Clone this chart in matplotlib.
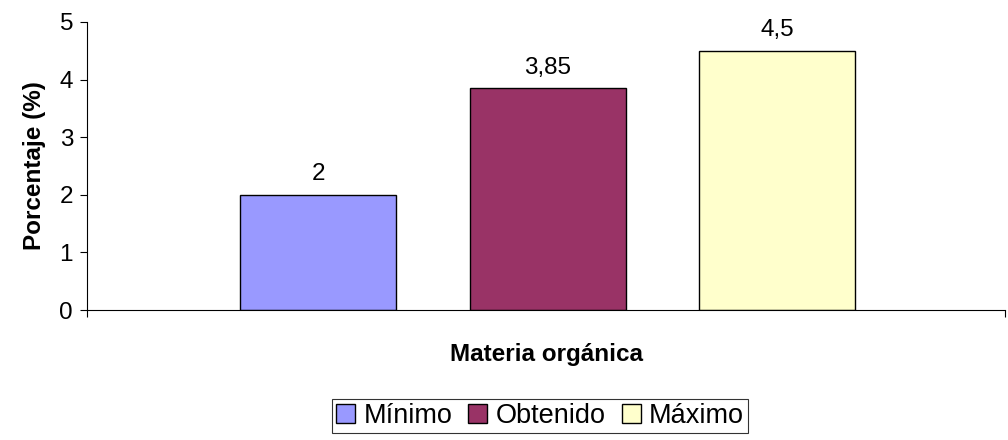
import matplotlib
matplotlib.use("Agg")
import matplotlib.pyplot as plt

plt.rcParams['font.family'] = ['Liberation Sans', 'DejaVu Sans']

series = ['Mínimo', 'Obtenido', 'Máximo']
values = [2, 3.85, 4.5]
value_labels = ['2', '3,85', '4,5']
colors = ['#9999FF', '#993366', '#FFFFCC']

fig = plt.figure(figsize=(10.08, 4.4), dpi=100)
ax = fig.add_axes([87 / 1008, 1 - 310 / 440, 918 / 1008, 288 / 440])

offsets = [-0.248, 0.002, 0.252]
for off, v, lab, c, name in zip(offsets, values, value_labels, colors, series):
    ax.bar(0.5 + off, v, width=0.17, color=c, edgecolor='black', linewidth=1, label=name)
    ax.annotate(lab, (0.5 + off, v), xytext=(0, 7), textcoords='offset points',
                ha='center', va='bottom', fontsize=17.5)

ax.set_xlim(0, 1)
ax.set_ylim(0, 5)
ax.set_yticks([0, 1, 2, 3, 4, 5])
ax.set_xticks([0, 1])
ax.set_xticklabels(['', ''])
ax.tick_params(axis='y', labelsize=17.5, length=5, width=0.8, direction='out', pad=5)
ax.tick_params(axis='x', length=5, width=0.8, direction='out')
for s in ['top', 'right']:
    ax.spines[s].set_visible(False)
ax.spines['left'].set_linewidth(0.8)
ax.spines['bottom'].set_linewidth(0.8)

ax.set_ylabel('Porcentaje (%)', fontsize=17.5, fontweight='bold', labelpad=10)
fig.text(546 / 1008, 1 - 355 / 440, 'Materia orgánica', ha='center', va='center',
         fontsize=17.5, fontweight='bold')

leg = fig.legend(loc='center', bbox_to_anchor=(540 / 1008, 1 - 416 / 440), ncol=3,
                 fontsize=19.5, frameon=True, fancybox=False, edgecolor='black',
                 handlelength=0.7, handleheight=0.7, handletextpad=0.3,
                 columnspacing=0.6, borderpad=0.15, borderaxespad=0)
leg.get_frame().set_linewidth(0.8)

fig.savefig('out.png', dpi=100)
